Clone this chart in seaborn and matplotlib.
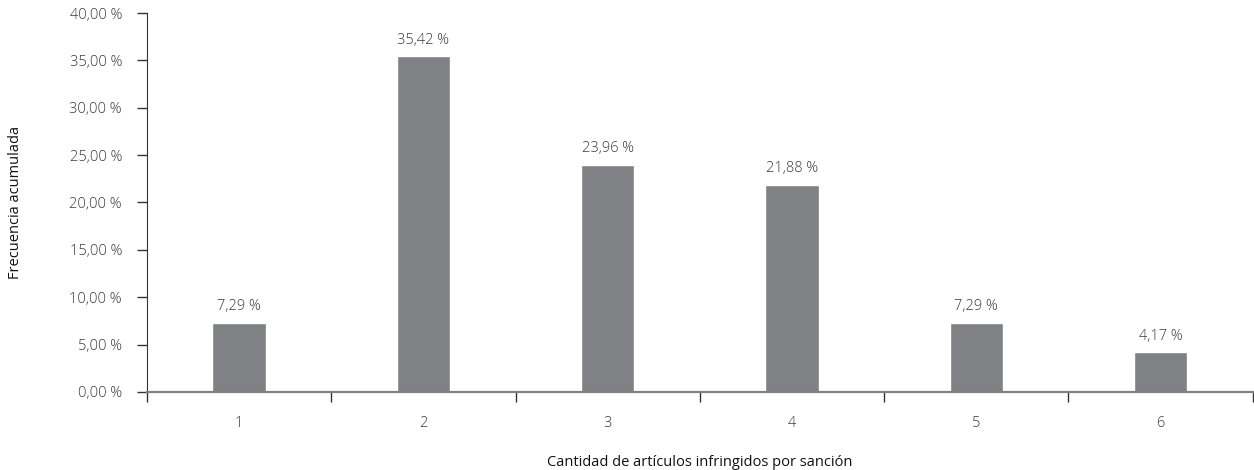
import numpy as np
import pandas as pd
import matplotlib
matplotlib.use("Agg")
import matplotlib.pyplot as plt
from matplotlib.ticker import FuncFormatter, FixedLocator
import seaborn as sns

# datos
categorias = ["1", "2", "3", "4", "5", "6"]
porcentajes = [7.29, 35.42, 23.96, 21.88, 7.29, 4.17]
yticks = [0, 5, 10, 15, 20, 25, 30, 35, 40]

df = pd.DataFrame({"cat": categorias, "pct": porcentajes})

sns.set_style("white")
plt.rcParams["font.family"] = ["Open Sans", "DejaVu Sans"]
plt.rcParams["font.weight"] = "light"

gris_txt = "#3a3a3a"
fs = 10.5
fig = plt.figure(figsize=(12.54, 4.70), dpi=100)
ax = fig.add_axes([0.1172, 0.166, 0.8818, 0.8063])

sns.barplot(data=df, x="cat", y="pct", color="#808184", width=0.29,
            saturation=1, ax=ax)

for i, v in enumerate(porcentajes):
    ax.text(i, v + 0.9, f"{v:.2f} %".replace(".", ","), ha="center", va="bottom",
            fontsize=fs, color=gris_txt)

ax.set_xlim(-0.5, 5.5)
ax.set_ylim(0, 40)
ax.set_yticks(yticks)
ax.yaxis.set_major_formatter(FuncFormatter(lambda v, p: f"{v:.2f} %".replace(".", ",")))
ax.tick_params(axis="y", length=7, width=1, color="#333333", labelsize=fs,
               labelcolor=gris_txt, pad=11, left=True)
ax.tick_params(axis="x", which="major", length=0, labelsize=fs, labelcolor=gris_txt, pad=17)
ax.xaxis.set_minor_locator(FixedLocator(np.arange(-0.5, 6, 1)))
ax.tick_params(axis="x", which="minor", length=7, width=1, color="#333333", bottom=True)

for s in ["top", "right"]:
    ax.spines[s].set_visible(False)
ax.spines["left"].set_color("#333333")
ax.spines["bottom"].set_color("#808080")
ax.spines["bottom"].set_linewidth(1.6)

ax.set_xlabel("Cantidad de artículos infringidos por sanción", fontsize=fs,
              color="#111111", fontweight="normal")
ax.set_ylabel("Frecuencia acumulada", fontsize=fs, color="#111111", fontweight="normal")
ax.xaxis.set_label_coords(0.5, -0.185)
ax.yaxis.set_label_coords(-0.119, 0.5)
ax.xaxis.label.set_va("center")
ax.yaxis.label.set_va("center")

fig.savefig("out.png", dpi=100)
